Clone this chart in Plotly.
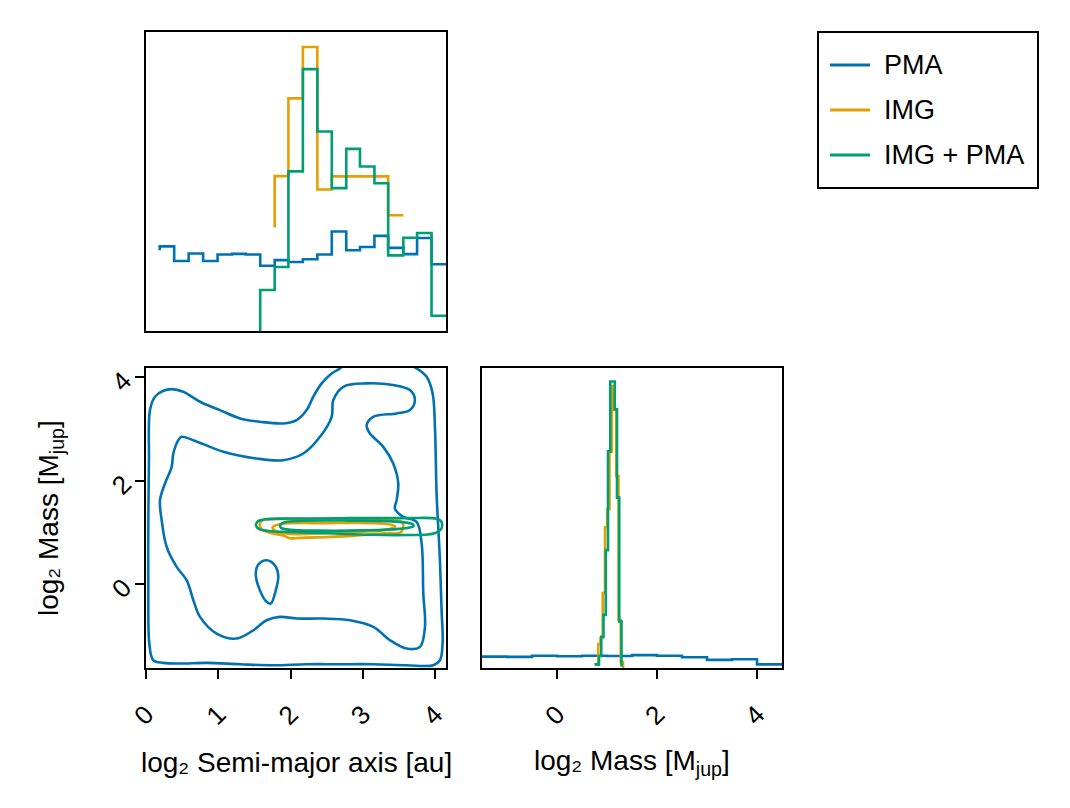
import plotly.graph_objects as go

# ---------------- colours ----------------
BLUE = "#0072B2"
ORANGE = "#E69F00"
GREEN = "#009E73"

SERIES = ["PMA", "IMG", "IMG + PMA"]
COLORS = [BLUE, ORANGE, GREEN]

# ---------------- top histogram: log2 semi-major axis ----------------
sma_edges = [0.19, 0.39, 0.59, 0.79, 0.99, 1.19, 1.38, 1.58, 1.78, 1.97, 2.17,
             2.37, 2.57, 2.77, 2.96, 3.16, 3.35, 3.56, 3.75, 3.95, 4.15]
sma_pma = [0.283, 0.234, 0.259, 0.234, 0.256, 0.258, 0.256, 0.218, 0.237, 0.231,
           0.240, 0.256, 0.333, 0.270, 0.281, 0.318, 0.278, 0.257, 0.311, 0.223]
sma_pma_start = 0.270
sma_img = [0.518, 0.778, 0.950, 0.473, 0.517, 0.517, 0.517, 0.517, 0.387]   # bins 8..16
sma_img_start = 0.346
sma_both = [0.137, 0.214, 0.534, 0.876, 0.667, 0.478, 0.609, 0.550, 0.494,
            0.253, 0.312, 0.328, 0.051]                                       # bins 7..19
sma_both_start = 0.0

# ---------------- right histogram: log2 mass ----------------
mass_edges_pma = [-1.5, -1.0, -0.5, 0.0, 0.5, 1.0, 1.5, 2.0, 2.5, 3.0, 3.5, 4.0, 4.5]
mass_pma = [0.038, 0.037, 0.041, 0.039, 0.041, 0.040, 0.043, 0.041, 0.036, 0.027, 0.029, 0.012]
mass_edges_img = [0.78, 0.825, 0.87, 0.915, 0.96, 1.005, 1.05, 1.095, 1.14, 1.185, 1.23, 1.275, 1.32]
mass_img = [0.01, 0.08, 0.10, 0.25, 0.47, 0.53, 0.72, 0.94, 0.86, 0.64, 0.16, 0.02]
mass_edges_both = [0.75, 0.795, 0.84, 0.885, 0.93, 0.975, 1.02, 1.065, 1.11, 1.155, 1.2, 1.245, 1.29]
mass_both = [0.012, 0.012, 0.04, 0.104, 0.177, 0.393, 0.722, 0.955, 0.955, 0.862, 0.568, 0.155]

# ---------------- 2D contours (sma, mass) ----------------
pma_outer_x = [0.101, 0.046, 0.032, 0.032, 0.041, 0.055, 0.124, 0.24, 0.355, 0.516, 0.747, 1.023,
               1.3, 1.577, 1.899, 2.084, 2.222, 2.314, 2.43, 2.568, 2.683, 2.867, 3.375, 3.743,
               3.882, 3.965, 3.997, 4.02, 4.066, 4.089, 4.103, 4.066, 3.974, 3.605, 3.144, 2.683,
               2.222, 1.761, 1.3, 0.839, 0.47, 0.24, 0.101]
pma_outer_y = [-1.47, -1.148, -0.181, 1.109, 2.398, 3.366, 3.624, 3.74, 3.772, 3.72, 3.527, 3.366,
               3.205, 3.14, 3.108, 3.172, 3.366, 3.624, 3.882, 4.075, 4.172, 4.397, 4.397, 4.172,
               4.01, 3.688, 3.043, 1.753, 0.464, -0.503, -1.148, -1.47, -1.567, -1.567, -1.547, -1.547,
               -1.547, -1.567, -1.547, -1.521, -1.534, -1.521, -1.47]
pma_inner_x = [0.493, 0.655, 1.07, 1.53, 1.899, 2.176, 2.407, 2.568, 2.591, 2.729, 3.052, 3.42,
               3.651, 3.72, 3.651, 3.467, 3.144, 3.052, 3.098, 3.282, 3.42, 3.49, 3.467, 3.444,
               3.559, 3.743, 3.813, 3.836, 3.859, 3.79, 3.605, 3.375, 3.144, 2.821, 2.453, 2.084,
               1.853, 1.669, 1.485, 1.254, 0.977, 0.747, 0.655, 0.562, 0.424, 0.286, 0.217, 0.194,
               0.263, 0.355, 0.378, 0.447, 0.493]
pma_inner_y = [2.85, 2.785, 2.56, 2.43, 2.398, 2.527, 2.85, 3.237, 3.56, 3.817, 3.882, 3.85,
               3.753, 3.56, 3.366, 3.301, 3.237, 3.075, 2.914, 2.656, 2.334, 1.947, 1.625, 1.463,
               1.302, 1.205, 0.786, -0.181, -0.825, -1.212, -1.244, -1.083, -0.825, -0.697, -0.664, -0.664,
               -0.632, -0.697, -0.89, -1.051, -0.954, -0.632, -0.31, 0.077, 0.335, 0.722, 1.237, 1.625,
               1.947, 2.269, 2.527, 2.785, 2.85]
pma_island_x = [1.669, 1.784, 1.83, 1.798, 1.725, 1.66, 1.568, 1.518, 1.554, 1.669]
pma_island_y = [0.464, 0.361, 0.155, -0.103, -0.374, -0.329, -0.09, 0.187, 0.38, 0.464]

img_outer_x = [1.577, 1.62, 1.8, 2.5, 3.3, 3.53, 3.56, 3.52, 3.3, 2.8, 2.2, 1.99, 1.9, 1.7, 1.6, 1.577]
img_outer_y = [1.18, 1.24, 1.26, 1.255, 1.24, 1.21, 1.12, 1.0, 0.985, 0.93, 0.9, 0.89, 0.94, 1.0, 1.06, 1.18]
img_inner_x = [1.75, 1.85, 2.5, 3.3, 3.45, 3.3, 2.6, 2.0, 1.8, 1.75]
img_inner_y = [1.1, 1.16, 1.18, 1.17, 1.12, 1.05, 1.0, 0.97, 1.02, 1.1]

both_outer_x = [1.521, 1.55, 1.65, 2.0, 2.8, 3.6, 4.02, 4.09, 4.08, 4.0, 3.9, 3.6, 3.1, 2.6, 2.0, 1.7, 1.56, 1.521]
both_outer_y = [1.147, 1.22, 1.255, 1.27, 1.277, 1.277, 1.265, 1.2, 1.06, 0.99, 0.96, 0.95, 0.955, 0.98, 1.01, 1.03, 1.07, 1.147]
both_inner_x = [1.853, 1.9, 2.1, 2.8, 3.4, 3.69, 3.7, 3.5, 3.0, 2.4, 2.0, 1.87, 1.853]
both_inner_y = [1.13, 1.19, 1.222, 1.23, 1.215, 1.16, 1.12, 1.07, 1.04, 1.035, 1.05, 1.09, 1.13]

# ---------------- axis settings ----------------
sma_range = [0, 4.15]
mass_range_y = [-1.62, 4.18]
mass_range_x = [-1.5, 4.5]
sma_ticks = [0, 1, 2, 3, 4]
mass_ticks = [0, 2, 4]

FONT = "Liberation Sans, Arial, sans-serif"
LW = 2.6
TXT = 27
TITLE = 28


def step_xy(edges, values, start, end):
    x = [edges[0]] + list(edges)
    y = [start] + list(values) + [end]
    return x, y


fig = go.Figure()

# top histograms
for name, col, edges, vals, s in [
    ("PMA", BLUE, sma_edges, sma_pma, sma_pma_start),
    ("IMG", ORANGE, sma_edges[8:18], sma_img, sma_img_start),
    ("IMG + PMA", GREEN, sma_edges[7:21], sma_both, sma_both_start),
]:
    x, y = step_xy(edges, vals, s, vals[-1])
    fig.add_trace(go.Scatter(x=x, y=y, mode="lines", line=dict(color=col, width=LW, shape="hv"),
                             name=name, legendgroup=name, showlegend=False, xaxis="x", yaxis="y"))

# contours
for name, col, paths in [
    ("PMA", BLUE, [(pma_outer_x, pma_outer_y), (pma_inner_x, pma_inner_y), (pma_island_x, pma_island_y)]),
    ("IMG", ORANGE, [(img_outer_x, img_outer_y), (img_inner_x, img_inner_y)]),
    ("IMG + PMA", GREEN, [(both_outer_x, both_outer_y), (both_inner_x, both_inner_y)]),
]:
    for px, py in paths:
        fig.add_trace(go.Scatter(x=px, y=py, mode="lines",
                                 line=dict(color=col, width=LW, shape="spline", smoothing=1.0),
                                 name=name, legendgroup=name, showlegend=False, xaxis="x2", yaxis="y2"))

# right histograms
for name, col, edges, vals, s, e in [
    ("PMA", BLUE, mass_edges_pma, mass_pma, mass_pma[0], mass_pma[-1]),
    ("IMG", ORANGE, mass_edges_img, mass_img, mass_img[0], 0.0),
    ("IMG + PMA", GREEN, mass_edges_both, mass_both, mass_both[0], 0.005),
]:
    x, y = step_xy(edges, vals, s, e)
    fig.add_trace(go.Scatter(x=x, y=y, mode="lines", line=dict(color=col, width=LW, shape="hv"),
                             name=name, legendgroup=name, showlegend=False, xaxis="x3", yaxis="y3"))

W, H = 1070, 808
left_dom = [146 / W, 446 / W]
right_dom = [482 / W, 782 / W]
top_dom = [1 - 331 / H, 1 - 32 / H]
bot_dom = [1 - 668 / H, 1 - 368 / H]

frame = dict(showline=True, mirror=True, linecolor="black", linewidth=2, showgrid=False,
             zeroline=False, automargin=False)
tickstyle = dict(ticks="outside", ticklen=9, tickwidth=1.5, tickcolor="black",
                 tickangle=-45, tickfont=dict(family=FONT, size=26, color="black"))

# legend (drawn as a framed key)
shapes = [dict(type="rect", xref="paper", yref="paper", x0=818 / W, x1=1038 / W,
               y0=1 - 188 / H, y1=1 - 32 / H, line=dict(color="black", width=2),
               fillcolor="white", layer="above")]
annotations = []
for i, (name, col) in enumerate(zip(SERIES, COLORS)):
    yy = 1 - (65 + 45 * i) / H
    shapes.append(dict(type="line", xref="paper", yref="paper", x0=830 / W, x1=870 / W,
                       y0=yy, y1=yy, line=dict(color=col, width=3)))
    annotations.append(dict(text=name, x=882 / W, y=yy, xref="paper", yref="paper",
                            showarrow=False, xanchor="left", yanchor="middle",
                            font=dict(family=FONT, size=TXT, color="black")))

annotations += [
    dict(text="log₂ Semi-major axis [au]", x=296 / W, y=1 - 762 / H, xref="paper", yref="paper",
         showarrow=False, xanchor="center", yanchor="middle", font=dict(family=FONT, size=TITLE)),
    dict(text="log₂ Mass [M<sub>jup</sub>]", x=632 / W, y=1 - 762 / H, xref="paper", yref="paper",
         showarrow=False, xanchor="center", yanchor="middle", font=dict(family=FONT, size=TITLE)),
    dict(text="log₂ Mass [M<sub>jup</sub>]", x=50 / W, y=1 - 518 / H, xref="paper", yref="paper",
         showarrow=False, xanchor="center", yanchor="middle", textangle=-90,
         font=dict(family=FONT, size=TITLE)),
]

fig.update_layout(
    width=W, height=H,
    margin=dict(l=0, r=0, t=0, b=0, pad=0, autoexpand=False),
    paper_bgcolor="white", plot_bgcolor="white",
    font=dict(family=FONT, color="black"),
    showlegend=False,
    xaxis=dict(domain=left_dom, range=sma_range, anchor="y", showticklabels=False, ticks="", **frame),
    yaxis=dict(domain=top_dom, range=[0, 1], anchor="x", showticklabels=False, ticks="", **frame),
    xaxis2=dict(domain=left_dom, range=sma_range, anchor="y2", tickvals=sma_ticks,
                ticklabelstandoff=10, **frame, **tickstyle),
    yaxis2=dict(domain=bot_dom, range=mass_range_y, anchor="x2", tickvals=mass_ticks,
                ticklabelstandoff=6, **frame, **tickstyle),
    xaxis3=dict(domain=right_dom, range=mass_range_x, anchor="y3", tickvals=mass_ticks,
                ticklabelstandoff=10, **frame, **tickstyle),
    yaxis3=dict(domain=bot_dom, range=[0, 1], anchor="x3", showticklabels=False, ticks="", **frame),
    shapes=shapes,
    annotations=annotations,
)

fig.write_html("out.html")
